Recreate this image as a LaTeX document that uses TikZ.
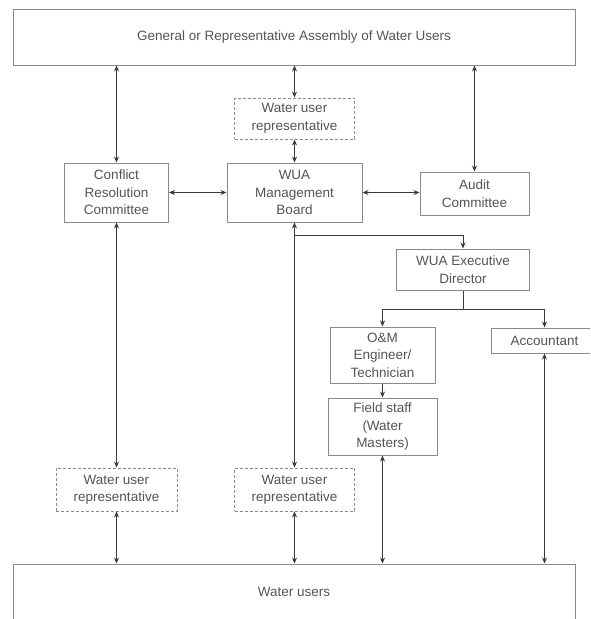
\documentclass[tikz,border=0pt]{standalone}
\usepackage{fontspec}
\setmainfont{Liberation Sans}
\usetikzlibrary{arrows.meta,calc}
\definecolor{boxc}{HTML}{8A8A8A}
\definecolor{txtc}{HTML}{555555}
\definecolor{linec}{HTML}{3A3A3A}
\begin{document}
\begin{tikzpicture}[x=1pt,y=-1pt,
  every node/.style={font=\fontsize{13.5}{17.5}\selectfont, text=txtc, align=center, inner sep=0pt},
  box/.style={draw=boxc, line width=1pt, fill=white},
  dbox/.style={draw=boxc, line width=0.9pt, dashed, dash pattern=on 3pt off 2pt, fill=white},
  link/.style={draw=linec, line width=0.9pt},
  tip/.style={-{Stealth[length=6pt,width=5pt]}},
  dtip/.style={{Stealth[length=6pt,width=5pt]}-{Stealth[length=6pt,width=5pt]}}]
\clip (0,0) rectangle (590,619);
\fill[white] (0,0) rectangle (590,619);
\useasboundingbox (0,0) rectangle (590,619);

\node[box, minimum width=562pt, minimum height=56pt] (top) at (294,37) {General or Representative Assembly of Water Users};
\node[dbox, minimum width=120pt, minimum height=41pt] (rep1) at (294.5,118.5) {Water user\\representative};
\node[box, minimum width=104pt, minimum height=59pt] (conf) at (116.5,192.5) {Conflict\\Resolution\\Committee};
\node[box, minimum width=135pt, minimum height=59pt] (mb) at (294.5,192.5) {WUA\\Management\\Board};
\node[box, minimum width=109pt, minimum height=43pt] (audit) at (474.5,193.5) {Audit\\Committee};
\node[box, minimum width=133pt, minimum height=41pt] (ed) at (463,269.5) {WUA Executive\\Director};
\node[box, minimum width=105pt, minimum height=56pt] (om) at (382.5,355) {O\&M\\Engineer/\\Technician};
\node[box, minimum width=106pt, minimum height=25pt] (acc) at (544.5,340.5) {Accountant};
\node[box, minimum width=109pt, minimum height=57pt] (fs) at (382.5,426.5) {Field staff\\(Water\\Masters)};
\node[dbox, minimum width=121pt, minimum height=43pt] (rep2) at (116.5,489.5) {Water user\\representative};
\node[dbox, minimum width=120pt, minimum height=43pt] (rep3) at (294.5,489.5) {Water user\\representative};
\node[box, minimum width=562pt, minimum height=56pt] (wu) at (294,592) {Water users};

% top level links
\draw[link,dtip] (top.south -| conf.north) -- (conf.north);
\draw[link,dtip] (top.south -| rep1.north) -- (rep1.north);
\draw[link,dtip] (rep1.south) -- (mb.north);
\draw[link,dtip] (top.south -| audit.north) -- (audit.north);
\draw[link,dtip] (conf.east) -- (mb.west);
\draw[link,dtip] (mb.east) -- (audit.west |- mb.east);

% management board down
\draw[link,dtip] (mb.south) -- (rep3.north);
\coordinate (br) at (294.5,235);
\draw[link,tip] (br) -| (ed.north);

% executive director branches
\draw[link] (ed.south) -- ++(0,18.5) coordinate (ej);
\draw[link,tip] (ej) -| (om.north);
\draw[link,tip] (ej) -| (acc.north);
\draw[link,tip] (om.south) -- (fs.north);

% lower links
\draw[link,dtip] (conf.south) -- (rep2.north);
\draw[link,dtip] (rep2.south) -- (rep2.south |- wu.north);
\draw[link,dtip] (rep3.south) -- (rep3.south |- wu.north);
\draw[link,dtip] (fs.south) -- (fs.south |- wu.north);
\draw[link,dtip] (acc.south) -- (acc.south |- wu.north);
\end{tikzpicture}
\end{document}
